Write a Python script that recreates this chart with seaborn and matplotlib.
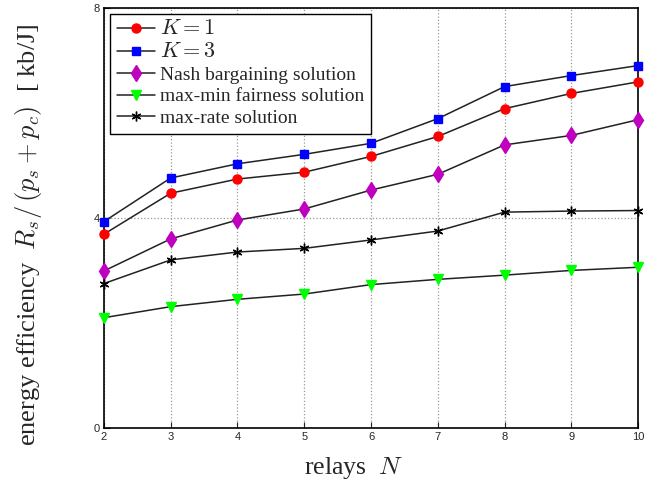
import seaborn as sns
import matplotlib.pyplot as plt
import pandas as pd

relays = [2, 3, 4, 5, 6, 7, 8, 9, 10]
k1 = [3.69, 4.47, 4.74, 4.87, 5.17, 5.55, 6.08, 6.37, 6.59]
k3 = [3.93, 4.76, 5.03, 5.21, 5.42, 5.89, 6.50, 6.71, 6.90]
nash = [2.99, 3.60, 3.96, 4.17, 4.53, 4.83, 5.39, 5.57, 5.87]
maxmin = [2.10, 2.31, 2.45, 2.55, 2.73, 2.83, 2.91, 3.00, 3.06]
maxrate = [2.75, 3.20, 3.35, 3.42, 3.58, 3.75, 4.11, 4.13, 4.14]

labels = ['$K=1$', '$K=3$', 'Nash bargaining solution',
          'max-min fairness solution', 'max-rate solution']
series = [k1, k3, nash, maxmin, maxrate]
marker_colors = ['#ff0000', '#0000ff', '#bf00bf', '#00ff00', 'k']
markers = ['o', 's', 'd', 'v', (6, 2, 0)]
msizes = [6.5, 5.5, 8.5, 7.5, 7]

sns.set_style('ticks')
plt.rcParams['font.family'] = ['Liberation Serif', 'DejaVu Serif']
plt.rcParams['mathtext.fontset'] = 'cm'

fig = plt.figure(figsize=(6.62, 4.88), dpi=100)
ax = fig.add_axes([0.157, 0.123, 0.807, 0.861])

for lab, vals, mc, m, ms in zip(labels, series, marker_colors, markers, msizes):
    df = pd.DataFrame({'N': relays, 'ee': vals})
    sns.lineplot(data=df, x='N', y='ee', ax=ax, color='#222222', lw=1.1,
                 marker=m, markersize=ms, markerfacecolor=mc,
                 markeredgecolor=mc, markeredgewidth=1.0,
                 label=lab, clip_on=False, zorder=3)

ax.set_xlim(2, 10)
ax.set_ylim(0, 8)
ax.set_xticks(relays)
ax.set_yticks([0, 4, 8])
ax.tick_params(direction='in', length=4, width=0.8, labelsize=8, pad=3)
for t in ax.get_xticklabels() + ax.get_yticklabels():
    t.set_family(['Liberation Sans', 'DejaVu Sans'])
ax.grid(True, ls=':', color='#999999', lw=0.9)
for s in ax.spines.values():
    s.set_linewidth(1.2)
    s.set_color('k')

ax.set_xlabel('relays  $N$', fontsize=18.5)
ax.xaxis.set_label_coords(0.468, -0.064)
ax.set_ylabel(r'energy efficiency  $R_s/\,(p_s+p_c)$  [ kb/J]', fontsize=19)
ax.yaxis.set_label_coords(-0.112, 0.46)

leg = ax.legend(loc='upper left', fontsize=14, frameon=True, fancybox=False,
                edgecolor='k', framealpha=1, borderaxespad=0.3,
                handlelength=2.0, labelspacing=0.2, borderpad=0.35,
                handletextpad=0.25)
leg.get_frame().set_linewidth(1.0)
for t in leg.get_texts()[:2]:
    t.set_fontsize(16)

fig.savefig('out.png', dpi=100)
